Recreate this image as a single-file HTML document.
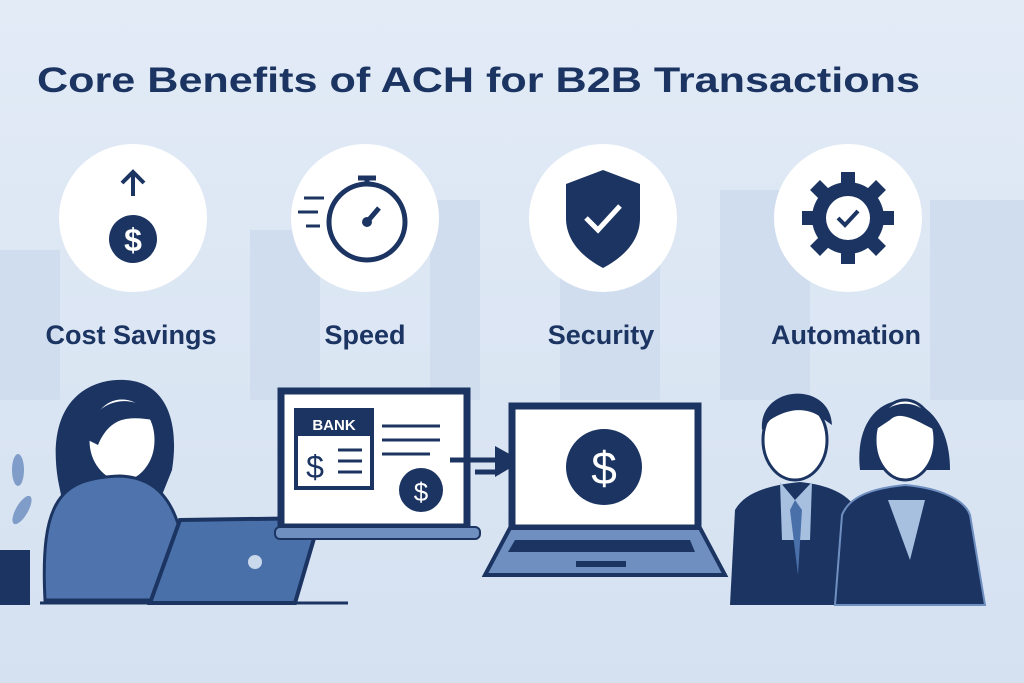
<!DOCTYPE html>
<html><head><style>
html,body{margin:0;padding:0;width:1024px;height:683px;overflow:hidden}
svg{display:block}
text{font-family:"Liberation Sans",sans-serif}
</style></head><body>
<svg width="1024" height="683" viewBox="0 0 1024 683" xmlns="http://www.w3.org/2000/svg">
<defs>
<linearGradient id="bg" x1="0" y1="0" x2="0" y2="1">
<stop offset="0" stop-color="#e2ebf6"/><stop offset="1" stop-color="#d5e1f1"/>
</linearGradient>
</defs>
<rect width="1024" height="683" fill="url(#bg)"/>
<!-- skyline -->
<g fill="#d0ddee">
<rect x="0" y="250" width="60" height="150"/>
<rect x="250" y="230" width="70" height="170"/>
<rect x="430" y="200" width="50" height="200"/>
<rect x="560" y="260" width="100" height="140"/>
<rect x="720" y="190" width="90" height="210"/>
<rect x="930" y="200" width="94" height="200"/>
</g>
<text x="37" y="92" font-size="35" font-weight="bold" fill="#1b3462" textLength="883" lengthAdjust="spacingAndGlyphs">Core Benefits of ACH for B2B Transactions</text>
<!-- circles -->
<g fill="#fff">
<circle cx="133" cy="218" r="74"/><circle cx="365" cy="218" r="74"/>
<circle cx="603" cy="218" r="74"/><circle cx="848" cy="218" r="74"/>
</g>
<!-- cost -->
<g fill="#1b3462" stroke="#1b3462">
<circle cx="133" cy="239" r="24" stroke="none"/>
<path d="M133 196V172M122 183L133 172L144 183" stroke-width="4" fill="none"/>
</g>
<text x="133" y="251" font-size="32" font-weight="bold" fill="#fff" text-anchor="middle">$</text>
<!-- speed -->
<g stroke="#1b3462" fill="none" stroke-width="5">
<circle cx="367" cy="222" r="38"/>
<path d="M358 178h18M367 178v7M367 222l12-14" />
<path d="M304 198h20M298 212h20M306 226h14" stroke-width="3"/>
</g>
<circle cx="367" cy="222" r="5" fill="#1b3462"/>
<!-- security -->
<path d="M603 170 L640 184 V218 C640 242 622 258 603 268 C584 258 566 242 566 218 V184 Z" fill="#1b3462"/>
<path d="M586 218l12 12 22-24" stroke="#fff" stroke-width="5" fill="none"/>
<!-- automation gear -->
<g fill="#1b3462">
<circle cx="848" cy="218" r="36"/>
<g stroke="#1b3462" stroke-width="14">
<path d="M848 172v92M802 218h92M815 185l66 66M881 185l-66 66"/>
</g>
</g>
<circle cx="848" cy="218" r="22" fill="#fff"/>
<path d="M838 218l7 7 13-14" stroke="#1b3462" stroke-width="4" fill="none"/>
<g font-size="27" fill="#1b3462" text-anchor="middle" font-weight="bold">
<text x="131" y="344">Cost Savings</text><text x="365" y="344">Speed</text>
<text x="601" y="344">Security</text><text x="846" y="344">Automation</text>
</g>
<!-- plant -->
<g fill="#7f9dc8"><ellipse cx="18" cy="470" rx="6" ry="16"/><ellipse cx="22" cy="510" rx="6" ry="16" transform="rotate(30 22 510)"/></g>
<rect x="0" y="550" width="30" height="55" fill="#1b3462"/>
<!-- woman -->
<path d="M58 480 C45 400 90 378 125 380 C165 382 180 420 172 470 L160 500 L62 500 Z" fill="#1b3462"/>
<ellipse cx="122" cy="440" rx="34" ry="42" fill="#fff" stroke="#1b3462" stroke-width="3"/>
<path d="M88 440 C86 398 140 388 155 420 C135 418 112 412 98 445 Z" fill="#1b3462"/>
<path d="M45 600 C40 500 60 478 120 476 C170 478 185 520 190 600 Z" fill="#4f74ad" stroke="#1b3462" stroke-width="3"/>
<path d="M180 520 L320 518 L295 603 L150 603 Z" fill="#4a70aa" stroke="#1b3462" stroke-width="4"/>
<circle cx="255" cy="562" r="7" fill="#c9d8ea"/>
<line x1="40" y1="603" x2="348" y2="603" stroke="#1b3462" stroke-width="3"/>
<!-- middle laptop -->
<rect x="281" y="391" width="186" height="136" fill="#fff" stroke="#1b3462" stroke-width="7"/>
<rect x="275" y="527" width="205" height="12" rx="5" fill="#6f8fc0" stroke="#1b3462" stroke-width="2"/>
<rect x="296" y="410" width="76" height="78" fill="#fff" stroke="#1b3462" stroke-width="4"/>
<rect x="296" y="410" width="76" height="26" fill="#1b3462"/>
<text x="334" y="430" font-size="15" font-weight="bold" fill="#fff" text-anchor="middle">BANK</text>
<text x="315" y="478" font-size="32" fill="#1b3462" text-anchor="middle">$</text>
<path d="M338 450h24M338 461h24M338 472h24M382 426h58M382 440h58M382 454h48" stroke="#1b3462" stroke-width="3"/>
<circle cx="421" cy="490" r="22" fill="#1b3462"/>
<text x="421" y="501" font-size="26" fill="#fff" text-anchor="middle">$</text>
<!-- arrow -->
<path d="M450 460h50M475 472h25" stroke="#1b3462" stroke-width="5"/>
<path d="M495 446L522 461L495 477Z" fill="#1b3462"/>
<!-- right laptop -->
<rect x="512" y="406" width="186" height="122" fill="#fff" stroke="#1b3462" stroke-width="7"/>
<path d="M510 528H700L725 575H485Z" fill="#6f8fc0" stroke="#1b3462" stroke-width="4"/>
<path d="M515 540H690L695 552H508Z" fill="#1b3462"/>
<rect x="576" y="561" width="50" height="6" fill="#1b3462"/>
<circle cx="604" cy="467" r="38" fill="#1b3462"/>
<text x="604" y="484" font-size="46" fill="#fff" text-anchor="middle">$</text>
<!-- man -->
<path d="M730 605 L735 510 C745 492 770 485 800 482 C830 485 850 495 858 512 L860 605Z" fill="#1b3462"/>
<path d="M780 482 L795 500 L812 482 L810 540 L782 540Z" fill="#a8c0e0"/>
<path d="M795 500 L802 510 L798 575 L790 510Z" fill="#4a70aa"/>
<ellipse cx="795" cy="440" rx="32" ry="40" fill="#fff" stroke="#1b3462" stroke-width="3"/>
<path d="M762 430 C758 385 830 380 832 425 L822 418 C805 405 785 410 770 420 Z" fill="#1b3462"/>
<!-- woman right -->
<path d="M860 470 C850 380 950 375 950 470 Z" fill="#1b3462"/>
<ellipse cx="905" cy="440" rx="30" ry="40" fill="#fff" stroke="#1b3462" stroke-width="3"/>
<path d="M875 430 C880 395 930 395 935 430 C915 420 900 410 890 420 Z" fill="#1b3462"/>
<path d="M835 605 L842 515 C850 495 875 488 905 485 C940 488 965 500 970 515 L985 605Z" fill="#1b3462" stroke="#6f8fc0" stroke-width="2"/>
<path d="M888 500 L925 500 L910 560Z" fill="#a8c0e0"/>
</svg>
</body></html>
